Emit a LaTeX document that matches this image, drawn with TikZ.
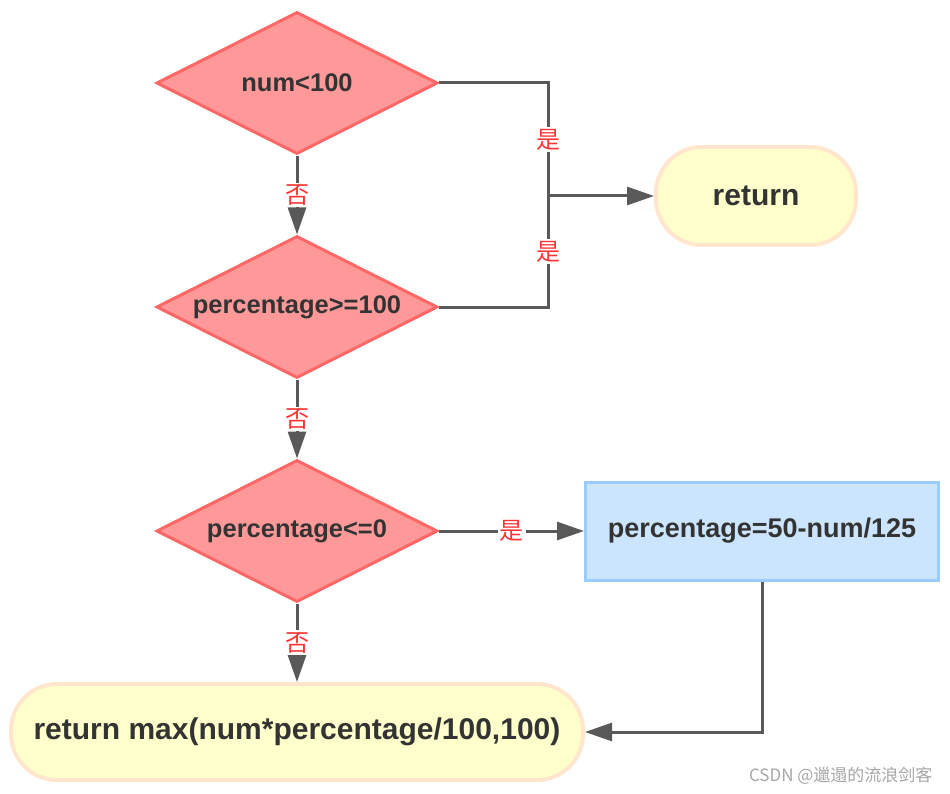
\documentclass[tikz,border=0pt]{standalone}
\usepackage{fontspec}
\setmainfont{Liberation Sans}
\newfontfamily\cjk{Noto Sans CJK SC}
\usetikzlibrary{shapes.geometric,arrows.meta}

\definecolor{txt}{HTML}{333333}
\definecolor{decfill}{HTML}{FF9999}
\definecolor{decline}{HTML}{FF6666}
\definecolor{endfill}{HTML}{FFFFCC}
\definecolor{endline}{HTML}{FFE6CC}
\definecolor{procfill}{HTML}{CCE5FF}
\definecolor{procline}{HTML}{99CCFF}
\definecolor{wire}{HTML}{595959}
\definecolor{labred}{HTML}{FF3333}
\definecolor{mark}{HTML}{A6A6A6}

\begin{document}
\begin{tikzpicture}[x=1pt,y=-1pt]
        \tikzstyle{every node}=[font=\fontsize{25.5}{28}\selectfont\bfseries, text=txt]
        \tikzstyle{decision}=[diamond, draw=decline, fill=decfill, line width=3pt, aspect=1.97, minimum width=281pt, minimum height=142pt, inner sep=1pt]
        \tikzstyle{terminal}=[rectangle, rounded corners=46pt, draw=endline, fill=endfill, line width=4pt, font=\fontsize{30}{32}\selectfont\bfseries]
        \tikzstyle{process}=[rectangle, draw=procline, fill=procfill, line width=3pt, font=\fontsize{27}{30}\selectfont\bfseries]
        \tikzstyle{flow}=[draw=wire, line width=3pt]
        \tikzstyle{arr}=[flow, -{Triangle[length=27pt,width=18pt]}]
        \tikzstyle{lab}=[font=\cjk\fontsize{24}{26}\selectfont, text=labred, fill=white, inner sep=2pt]

        \useasboundingbox (0,0) rectangle (950,794);

        \node[decision] (numcheck) at (297,83) {num<100};
        \node[decision] (highcheck) at (297,307) {percentage>=100};
        \node[decision] (lowcheck) at (297,531) {percentage<=0};
        \node[terminal, minimum width=200pt, minimum height=98pt] (ret) at (756,196) {return};
        \node[process, minimum width=353pt, minimum height=98pt] (reset) at (762,531) {percentage=50-num/125};
        \node[terminal, minimum width=572pt, minimum height=96pt] (result) at (297,732) {return max(num*percentage/100,100)};
        \coordinate (join) at (548,196);

        \draw[arr] (numcheck) -- node[lab] {否} (highcheck);
        \draw[arr] (highcheck) -- node[lab] {否} (lowcheck);
        \draw[arr] (lowcheck) -- node[lab] {否} (result);
        \draw[flow] (numcheck.east) -| node[lab, pos=0.75] {是} (join);
        \draw[flow] (highcheck.east) -| node[lab, pos=0.75] {是} (join);
        \draw[arr] (join) -- (ret);
        \draw[arr] (lowcheck) -- node[lab] {是} (reset);
        \draw[arr] (reset.south) |- (result.east);

        \node[font=\cjk\fontsize{17}{20}\selectfont, text=mark, anchor=east] (mark) at (936,776) {CSDN @邋遢的流浪剑客};
    \end{tikzpicture}
\end{document}
